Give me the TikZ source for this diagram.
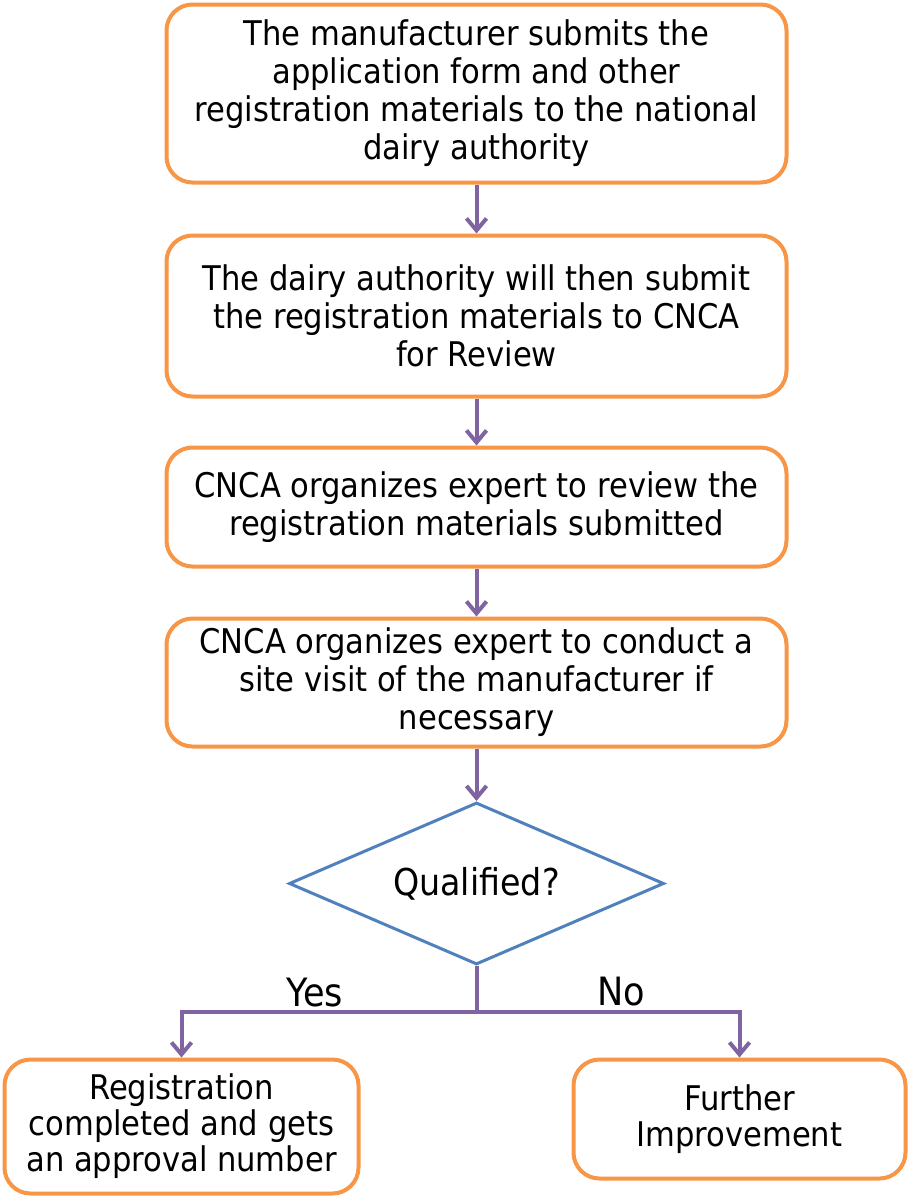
\documentclass[tikz,border=0pt]{standalone}
\usepackage{fontspec}
\setmainfont{DejaVu Sans Condensed}
\usetikzlibrary{arrows.meta,shapes.geometric}

\definecolor{boxorange}{RGB}{247,150,70}
\definecolor{linkpurple}{RGB}{128,100,162}
\definecolor{diablue}{RGB}{79,129,189}

\begin{document}
\begin{tikzpicture}[x=1pt, y=-1pt,
    stage/.style={draw=boxorange, line width=4pt, rounded corners=26pt, fill=white, minimum width=620pt, align=center, inner sep=0pt, font=\fontsize{34}{38}\selectfont},
    decision/.style={draw=diablue, line width=3pt, diamond, aspect=2.3, fill=white, minimum width=375pt, minimum height=162pt, inner sep=0pt, font=\fontsize{37}{42}\selectfont},
    branch/.style={font=\fontsize{39}{44}\selectfont},
    link/.style={draw=linkpurple, line width=4pt, -{Straight Barb[length=12pt,width=20pt]}},
]
\useasboundingbox (0,0) rectangle (910,1200);

% main steps
\node[stage, minimum height=178pt] (submit) at (476.5,93.5) {The manufacturer submits the\\application form and other\\registration materials to the national\\dairy authority};
\node[stage, minimum height=161pt] (forward) at (476.5,316) {The dairy authority will then submit\\the registration materials to CNCA\\for Review};
\node[stage, minimum height=119pt] (review) at (476.5,507) {CNCA organizes expert to review the\\registration materials submitted};
\node[stage, minimum height=128pt] (visit) at (476.5,682.5) {CNCA organizes expert to conduct a\\site visit of the manufacturer if\\necessary};

% decision
\node[decision] (qualified) at (476.5,883.5) {Qualified?};
\coordinate (split) at (476.5,1012);

% outcomes
\node[stage, minimum width=354pt, minimum height=134pt, font=\fontsize{34}{36}\selectfont] (approved) at (181.5,1126.5) {Registration\\completed and gets\\an approval number};
\node[stage, minimum width=332pt, minimum height=119pt, font=\fontsize{34}{36}\selectfont] (improve) at (739.5,1119) {Further\\Improvement};
\node[branch] (yes) at (315,993) {Yes};
\node[branch] (no) at (621,992) {No};

\draw[link] (submit) -- (forward);
\draw[link] (forward) -- (review);
\draw[link] (review) -- (visit);
\draw[link] (visit) -- (qualified);
\draw[link] (qualified.south) -- (split) -| (approved.north);
\draw[link] (split) -| (improve.north);
\end{tikzpicture}
\end{document}
